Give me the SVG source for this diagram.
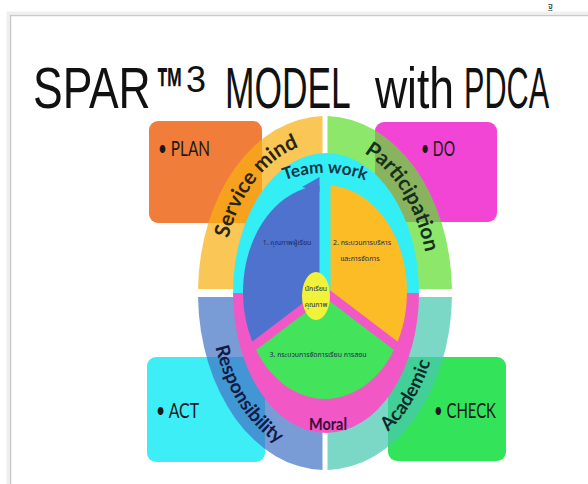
<svg xmlns="http://www.w3.org/2000/svg" width="588" height="484" viewBox="0 0 588 484">
<style>
.title{font-family:"Liberation Sans",Arial,sans-serif;font-size:58px;fill:#111}
.lbl{font-family:Lato,"Liberation Sans",sans-serif;font-size:22px;fill:#1a1a1a}
.ring{font-family:Lato,"Liberation Sans",sans-serif;font-weight:bold}
.th{font-family:"Noto Sans Thai","Noto Sans","DejaVu Sans",sans-serif;font-size:7px;fill:#1e2a55;text-anchor:middle}
.q{opacity:0.72}
</style>
<defs>
<path id="pSM" d="M221 293 A104 151 0 0 1 325 142"/>
<path id="pPA" d="M325 142 A104 151 0 0 1 429 293"/>
<path id="pRE" d="M209 293 A116 165 0 0 0 325 458"/>
<path id="pAC" d="M325 458 A116 165 0 0 0 441 293"/>
<path id="pTW" d="M280 182 Q325 164 370 182"/>
</defs>
<rect width="588" height="484" fill="#fff"/>
<g id="frame">
<path d="M8 484 V13 H588" fill="none" stroke="#efefef" stroke-width="3"/>
<path d="M10.5 484 V15.5 H588" fill="none" stroke="#c9c9c9" stroke-width="1.5"/>
</g>
<text x="548" y="9" font-family="'Noto Sans Thai','Noto Sans',sans-serif" font-size="9" fill="#222">ฐ</text>
<g id="title" class="title">
<text transform="translate(33 108) scale(0.766 1)">SPAR</text>
<text transform="translate(156 108) scale(0.48 1)" font-weight="bold">™</text>
<text transform="translate(186 92)" font-size="36">3</text>
<text transform="translate(225 108) scale(0.61 1)">MODEL</text>
<text transform="translate(375 108) scale(0.767 1)">with</text>
<text transform="translate(464 108) scale(0.528 1)">PDCA</text>
</g>
<g id="plan"><rect x="149" y="121" width="113" height="102" rx="9" fill="#F07D3A"/><text class="lbl" x="158" y="156" textLength="52" lengthAdjust="spacingAndGlyphs">• PLAN</text></g>
<g id="do"><rect x="375" y="122" width="122" height="100" rx="9" fill="#F245D6"/><text class="lbl" x="421" y="156" textLength="34" lengthAdjust="spacingAndGlyphs">• DO</text></g>
<g id="act"><rect x="147" y="357" width="118" height="105" rx="9" fill="#3DEEF6"/><text class="lbl" x="156" y="418" textLength="43" lengthAdjust="spacingAndGlyphs">• ACT</text></g>
<g id="check"><rect x="388" y="357" width="118" height="104" rx="9" fill="#33E35A"/><text class="lbl" x="434" y="418" textLength="62" lengthAdjust="spacingAndGlyphs">• CHECK</text></g>
<g id="service-mind"><path class="q" d="M322.5 289 L198 289 A127 177 0 0 1 322.5 116 Z" fill="#F8B013"/></g>
<g id="participation"><path class="q" d="M327.5 289 L327.5 116 A127 177 0 0 1 452 289 Z" fill="#60DE30"/></g>
<g id="academic"><path class="q" d="M327.5 297 L452 297 A127 177 0 0 1 327.5 470 Z" fill="#4AC9B0"/></g>
<g id="responsibility"><path class="q" d="M322.5 297 L322.5 470 A127 177 0 0 1 198 297 Z" fill="#4575C6"/></g>
<g id="team-work"><path d="M233 293 A93 140 0 0 1 419 293 Z" fill="#33EEF5"/></g>
<g id="moral"><path d="M233 293 A93 140 0 0 0 419 293 Z" fill="#F158C6"/></g>
<g id="sector-1"><path d="M325 292 L254 345.5 A82 107 0 0 1 325 185 Z" fill="#4F72CF"/></g>
<g id="sector-2"><path d="M325 292 L325 185 A82 107 0 0 1 396 345.5 Z" fill="#FBBC26"/></g>
<g id="sector-3"><path d="M325 292 L396 345.5 A82 107 0 0 1 254 345.5 Z" fill="#44E35C"/></g>
<g id="gaps">
<line x1="325" y1="292" x2="325" y2="180" stroke="#33EEF5" stroke-width="11"/>
<line x1="325" y1="292" x2="246" y2="352" stroke="#F158C6" stroke-width="9"/>
<line x1="325" y1="292" x2="404" y2="352" stroke="#F158C6" stroke-width="9"/>
<polygon points="319.5,177 319.5,192 302,187" fill="#4F72CF"/>
</g>
<g id="center"><ellipse cx="316" cy="296" rx="14" ry="24" fill="#F2F23A"/>
<text class="th" x="316" y="291">นักเรียน</text><text class="th" x="316" y="307">คุณภาพ</text></g>
<g id="thai-labels">
<text class="th" x="287" y="245">1. คุณภาพผู้เรียน</text>
<text class="th" x="362" y="245">2. กระบวนการบริหาร</text>
<text class="th" x="360" y="261">และการจัดการ</text>
<text class="th" x="318" y="357">3. กระบวนการจัดการเรียน การสอน</text>
</g>
<g id="ring-labels" class="ring">
<text font-size="21" fill="#2a2410"><textPath href="#pSM" startOffset="57%" text-anchor="middle">Service mind</textPath></text>
<text font-size="21" fill="#16301a"><textPath href="#pPA" startOffset="50%" text-anchor="middle">Participation</textPath></text>
<text font-size="19" fill="#101c44"><textPath href="#pRE" startOffset="51%" text-anchor="middle">Responsibility</textPath></text>
<text font-size="19" fill="#0c2a2a"><textPath href="#pAC" startOffset="50%" text-anchor="middle">Academic</textPath></text>
<text font-size="17" fill="#0f3545"><textPath href="#pTW" startOffset="50%" text-anchor="middle">Team work</textPath></text>
<text x="328" y="430" font-size="17" fill="#3a0c3c" text-anchor="middle" textLength="38" lengthAdjust="spacingAndGlyphs">Moral</text>
</g>
<g id="connectors"/>
</svg>
